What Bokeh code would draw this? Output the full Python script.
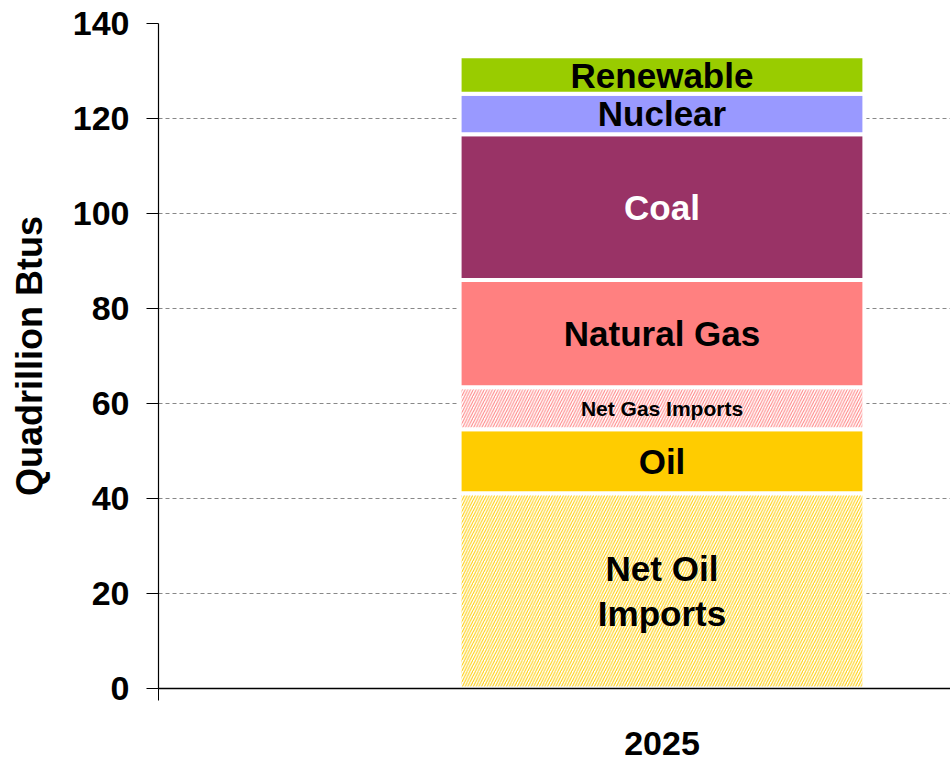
from bokeh.plotting import figure
from bokeh.models import Range1d, FixedTicker, ColumnDataSource, LinearAxis
from bokeh.core.properties import value
from bokeh.embed import file_html
from bokeh.resources import INLINE

# ---- data ----
categories = ["2025"]
segments = ["Net Oil Imports", "Oil", "Net Gas Imports", "Natural Gas", "Coal", "Nuclear", "Renewable"]
seg_labels = ["Net Oil\nImports", "Oil", "Net Gas Imports", "Natural Gas", "Coal", "Nuclear", "Renewable"]
values = [41.1, 13.5, 8.8, 22.6, 30.7, 8.5, 7.9]
fill_colors = ["white", "#FFCC00", "white", "#FF8080", "#993366", "#9999FF", "#99CC00"]
hatch_patterns = ["/", " ", "/", " ", " ", " ", " "]
hatch_colors = ["#FFCC00", "#FFCC00", "#FF8080", "#FF8080", "#993366", "#9999FF", "#99CC00"]
label_colors = ["black", "black", "black", "black", "white", "black", "black"]
label_sizes = ["35px", "35px", "21px", "35px", "35px", "35px", "35px"]
y_ticks = [0, 20, 40, 60, 80, 100, 120, 140]

FONT = "Liberation Sans"

# stacked positions
bottoms, tops, mids = [], [], []
acc = 0.0
for v in values:
    bottoms.append(acc)
    tops.append(acc + v)
    mids.append(acc + v / 2)
    acc += v

cat_x = [i + 0.5 for i in range(len(categories))]
xs = [cat_x[0]] * len(values)

src = ColumnDataSource(dict(
    x=xs, bottom=bottoms, top=tops, mid=mids, fill=fill_colors,
    hatch=hatch_patterns, hcol=hatch_colors, label=seg_labels,
    lcol=label_colors, lsize=label_sizes,
))

p = figure(width=950, height=760, output_backend="svg", toolbar_location=None,
           x_range=Range1d(0, 0.7865), y_range=Range1d(0, 140),
           min_border_left=158, min_border_top=23, min_border_right=0,
           min_border_bottom=72, x_axis_location=None, y_axis_location=None)
p.outline_line_color = None
p.background_fill_color = "white"
p.border_fill_color = "white"

p.vbar(x="x", bottom="bottom", top="top", width=0.402, source=src,
       fill_color="fill", line_color="white", line_width=4,
       hatch_pattern="hatch", hatch_color="hcol", hatch_scale=5.5, hatch_weight=1.0)

p.text(x="x", y="mid", text="label", source=src, text_color="lcol",
       text_font=value(FONT), text_font_style="bold", text_font_size="lsize",
       text_align="center", text_baseline="middle", text_line_height=1.15)

# y axis
yaxis = LinearAxis(ticker=FixedTicker(ticks=y_ticks))
yaxis.axis_label = "Quadrillion Btus"
yaxis.axis_label_text_font = FONT
yaxis.axis_label_text_font_style = "bold"
yaxis.axis_label_text_font_size = "36px"
yaxis.axis_label_text_color = "black"
yaxis.axis_label_standoff = 20
yaxis.major_label_text_font = FONT
yaxis.major_label_text_font_style = "bold"
yaxis.major_label_text_font_size = "34px"
yaxis.major_label_text_color = "black"
yaxis.major_label_standoff = 17
yaxis.major_tick_out = 12
yaxis.major_tick_in = 0
yaxis.major_tick_line_color = "black"
yaxis.minor_tick_line_color = None
yaxis.axis_line_color = "black"
yaxis.axis_line_width = 1.2
p.add_layout(yaxis, "left")

# x axis
xaxis = LinearAxis(ticker=FixedTicker(ticks=cat_x, minor_ticks=[0]))
xaxis.major_label_overrides = {cat_x[i]: c for i, c in enumerate(categories)}
xaxis.major_label_text_font = FONT
xaxis.major_label_text_font_style = "bold"
xaxis.major_label_text_font_size = "34px"
xaxis.major_label_text_color = "black"
xaxis.major_label_standoff = 31
xaxis.major_tick_out = 0
xaxis.major_tick_in = 0
xaxis.minor_tick_out = 12
xaxis.minor_tick_in = 0
xaxis.minor_tick_line_color = "black"
xaxis.axis_line_color = "black"
xaxis.axis_line_width = 1.5
p.add_layout(xaxis, "below")

p.xgrid.visible = False
p.ygrid.grid_line_color = "#888888"
p.ygrid.grid_line_dash = "4 3"
p.ygrid.grid_line_width = 1

open("out.html", "w").write(file_html(p, INLINE))
